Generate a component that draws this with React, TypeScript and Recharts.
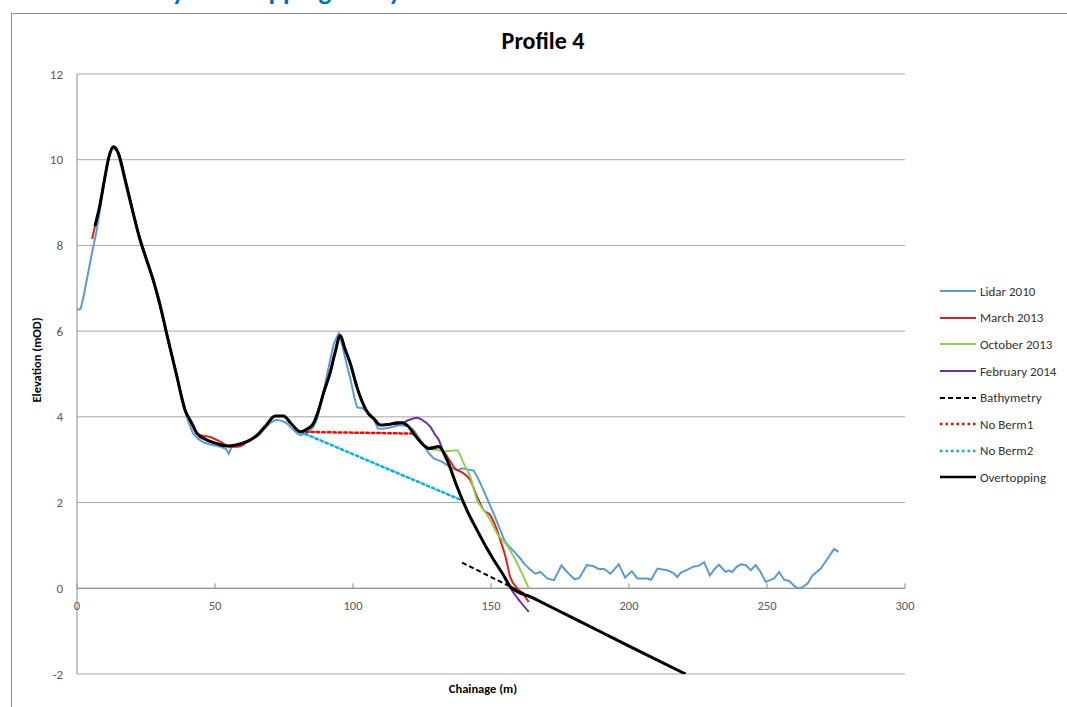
import { LineChart, Line, XAxis, YAxis, CartesianGrid, ReferenceLine, ReferenceDot } from 'recharts';

type Pt = [number, number];

// chainage (m), elevation (mOD)
const lidar2010: Pt[] = [
  [0, 6.5], [1.3, 6.52], [2.5, 6.85], [4, 7.35], [5.5, 7.85], [7, 8.3], [8.5, 8.9], [10, 9.55],
  [11.5, 10.05], [13, 10.28], [14.5, 10.2], [16, 9.85], [18, 9.3], [20, 8.8], [22, 8.35], [24, 7.95],
  [26, 7.55], [28, 7.15], [30, 6.7], [32, 6.1], [34, 5.5], [36, 4.95], [38, 4.4], [40, 3.95],
  [42, 3.62], [44, 3.48], [46, 3.4], [48, 3.36], [50, 3.33], [52, 3.3], [54, 3.25], [55, 3.14],
  [56, 3.3], [58, 3.33], [60, 3.38], [62, 3.42], [64, 3.5], [66, 3.58], [68, 3.72], [70, 3.86],
  [72, 3.93], [74, 3.91], [76, 3.85], [78, 3.72], [80, 3.6], [81, 3.57], [83, 3.62], [85.5, 3.75],
  [87, 3.95], [89, 4.5], [91, 5.1], [93, 5.7], [94.8, 5.95], [96, 5.7], [97.8, 5.2], [99, 4.9],
  [100.5, 4.45], [101.5, 4.22], [103.5, 4.2], [105.5, 4.1], [107.5, 3.96], [109, 3.73], [111, 3.72],
  [113.5, 3.75], [117, 3.81], [120, 3.78], [122, 3.69], [124, 3.5], [125.6, 3.34], [127.5, 3.15],
  [129.2, 3.03], [132.3, 2.95], [134, 2.88], [135.9, 2.8], [138, 2.75], [139.5, 2.8], [141.5, 2.77],
  [143.7, 2.75], [145, 2.6], [146.2, 2.44], [148.6, 2.09], [151, 1.74], [153.4, 1.35], [155, 1.1],
  [156.5, 0.98], [158.5, 0.85], [160.7, 0.69], [161.9, 0.58], [164, 0.45], [166.1, 0.34], [167.9, 0.38],
  [170.4, 0.23], [172.8, 0.19], [175.5, 0.53], [178, 0.35], [180.3, 0.21], [182, 0.24], [184.7, 0.54],
  [187, 0.52], [189, 0.45], [191, 0.45], [193.3, 0.34], [196.3, 0.56], [198.6, 0.25], [201, 0.4],
  [203, 0.23], [206.6, 0.23], [208, 0.2], [210.3, 0.46], [213.9, 0.42], [216, 0.36], [217.5, 0.26],
  [218.7, 0.36], [221, 0.43], [223.5, 0.51], [225, 0.52], [227.2, 0.61], [229.3, 0.3], [231, 0.45],
  [232.6, 0.55], [235, 0.38], [236, 0.42], [237.4, 0.38], [239, 0.5], [240.5, 0.56], [242.3, 0.54],
  [244.1, 0.42], [245.9, 0.54], [247.5, 0.4], [249.5, 0.15], [252.6, 0.23], [254.4, 0.38], [256.2, 0.2],
  [258, 0.17], [260, 0.05], [261, 0], [262.2, 0], [264.7, 0.11], [266.5, 0.3], [269.5, 0.46],
  [271.9, 0.69], [274.3, 0.92], [275.9, 0.85],
];

// shared crest / berm profile of the surveyed lines
const crestProfile: Pt[] = [
  [6.5, 8.45], [8, 8.85], [10, 9.55], [11.5, 10.05], [13.2, 10.3], [15, 10.15], [17.4, 9.55], [20, 8.85],
  [22.9, 8.12], [25, 7.7], [27.6, 7.19], [30.1, 6.6], [33, 5.8], [36, 5.0], [39.2, 4.15], [41.6, 3.85],
  [43.4, 3.62], [47, 3.46], [50.5, 3.38], [54.3, 3.32], [58, 3.35], [61.5, 3.42], [65.2, 3.57],
  [68.5, 3.8], [71.8, 4.02], [74.8, 4.02], [77.5, 3.85], [80.9, 3.65], [83.5, 3.72], [85.7, 3.85],
  [87.5, 4.15], [89.3, 4.55], [91.8, 5.05], [93.5, 5.5], [95.4, 5.9], [97, 5.6], [99, 5.25], [101.4, 4.7],
  [103.9, 4.27], [105.5, 4.08], [107.5, 3.96], [109.9, 3.81], [113.5, 3.83], [117.7, 3.86],
];

const overtoppingTail: Pt[] = [
  [120, 3.78], [122, 3.61], [125.6, 3.34], [127.4, 3.26], [131.1, 3.3], [134.1, 2.99], [137.7, 2.37],
  [141.3, 1.82], [145, 1.35], [148.6, 0.92], [151, 0.66], [154.6, 0.3], [157, 0.04], [165, -0.22],
  [180, -0.7], [200, -1.35], [220.5, -2.0],
];

const march2013Tail: Pt[] = [
  [120, 3.78], [122, 3.61], [125.6, 3.34], [127.4, 3.28], [131.1, 3.32], [134.1, 3.07], [137.1, 2.79],
  [140.1, 2.68], [142.5, 2.52], [145, 2.13], [147.4, 1.82], [149.8, 1.7], [152.2, 1.35], [153.4, 1.12],
  [155.2, 0.75], [157, 0.26], [159.5, 0.0], [161.9, -0.16], [163.7, -0.32],
];

const march2013Trough: Pt[] = [
  [5.5, 8.15], [44.6, 3.57], [48.2, 3.53], [51.9, 3.42], [55.5, 3.3], [58, 3.3], [60.3, 3.35],
];

const october2013Tail: Pt[] = [
  [120, 3.78], [122, 3.61], [125.6, 3.34], [127.4, 3.26], [129.5, 3.24], [131.1, 3.22], [133.5, 3.2],
  [137.7, 3.22], [140.1, 2.91], [142.5, 2.6], [145, 2.05], [147.4, 1.82], [149.8, 1.59], [152.2, 1.28],
  [155.8, 1.0], [159.5, 0.58], [163.7, 0.0],
];

const february2014Tail: Pt[] = [
  [120, 3.92], [123.2, 3.98], [125, 3.93], [128, 3.77], [130, 3.56], [131.1, 3.46], [132.3, 3.26],
  [134.1, 2.99], [137.7, 2.37], [141.3, 1.82], [145, 1.35], [148.6, 0.92], [151, 0.66], [154.6, 0.3],
  [157.6, -0.05], [160.7, -0.32], [163.7, -0.55],
];

const bathymetry: Pt[] = [[139.5, 0.6], [220.5, -2.0]];
const noBerm1: Pt[] = [[80.9, 3.65], [121.4, 3.61]];
const noBerm2: Pt[] = [[80.9, 3.65], [139.5, 2.05]];

const chainageTicks = [0, 50, 100, 150, 200, 250, 300];
const elevationTicks = [-2, 0, 2, 4, 6, 8, 10, 12];

const rows = (pts: Pt[]) => pts.map(([x, y]) => ({ x, y }));
const sorted = (pts: Pt[]) => [...pts].sort((a, b) => a[0] - b[0]);

// March 2013 follows the crest except where it sits apart in the landward trough
const march2013 = sorted([
  ...march2013Trough,
  ...crestProfile.filter(([x]) => x < 44 || x > 61),
  ...march2013Tail,
]);
const october2013 = sorted([[6.9, 8.6], ...crestProfile.filter(([x]) => x > 7), ...october2013Tail]);
const february2014 = sorted([...crestProfile, [116, 3.88], ...february2014Tail]);
const overtopping = sorted([...crestProfile, ...overtoppingTail]);

const FONT = "Carlito, Calibri, 'Liberation Sans Narrow', Lato, 'Open Sans', sans-serif";
const AXIS_GREY = '#8c8c8c';

const series = [
  { name: 'Lidar 2010', data: lidar2010, color: '#5b9bd5', width: 2, dash: undefined, type: 'linear' },
  { name: 'March 2013', data: march2013, color: '#e0201b', width: 2, dash: undefined, type: 'monotone' },
  { name: 'October 2013', data: october2013, color: '#92d050', width: 2, dash: undefined, type: 'monotone' },
  { name: 'February 2014', data: february2014, color: '#7030a0', width: 2, dash: undefined, type: 'monotone' },
  { name: 'Bathymetry', data: bathymetry, color: '#000000', width: 2, dash: '5 3', type: 'linear' },
  { name: 'No Berm1', data: noBerm1, color: '#ff0000', width: 2.5, dash: '2.5 3', type: 'linear' },
  { name: 'No Berm2', data: noBerm2, color: '#00b0f0', width: 2.5, dash: '2.5 3', type: 'linear' },
  { name: 'Overtopping', data: overtopping, color: '#000000', width: 3, dash: undefined, type: 'monotone' },
] as const;

// chainage labels sit on the zero line, with small upward tick marks
const chainageMark = (value: number) => (p: any) => (
  <g>
    <line x1={p.cx} x2={p.cx} y1={p.cy - 5} y2={p.cy} stroke={AXIS_GREY} />
    <text x={p.cx} y={p.cy + 22} textAnchor="middle" fontSize={12.5} fill="#595959" fontFamily={FONT}>
      {value}
    </text>
  </g>
);

const LegendBox = () => (
  <div style={{ position: 'absolute', left: 938, top: 278, fontFamily: FONT, fontSize: 13, color: '#333' }}>
    {series.map((s) => (
      <div key={s.name} style={{ display: 'flex', alignItems: 'center', height: 26.6 }}>
        <svg width={40} height={10} style={{ marginRight: 2 }}>
          <line x1={2} x2={38} y1={5} y2={5} stroke={s.color} strokeWidth={Math.min(s.width, 2.5)} strokeDasharray={s.dash} />
        </svg>
        <span>{s.name}</span>
      </div>
    ))}
  </div>
);

export default function App() {
  return (
    <div style={{ position: 'absolute', left: 0, top: 0, width: 1067, height: 707, overflow: 'hidden', background: '#fff' }}>
      <div
        style={{
          position: 'absolute', left: 144, top: -24, whiteSpace: 'nowrap', color: '#0070c0',
          fontFamily: FONT, fontWeight: 700, fontSize: 27, lineHeight: '30px',
        }}
      >
        Bay Overtopping Study
      </div>
      <div style={{ position: 'absolute', left: 11, top: 13, width: 1100, height: 800, border: `1px solid ${AXIS_GREY}` }} />
      <div
        style={{
          position: 'absolute', left: 443, width: 200, top: 26, textAlign: 'center',
          fontFamily: FONT, fontWeight: 700, fontSize: 24, color: '#000',
        }}
      >
        Profile 4
      </div>
      <LineChart
        width={1067}
        height={707}
        margin={{ top: 74, right: 162, bottom: 33, left: 37 }}
        style={{ position: 'absolute', left: 0, top: 0 }}
      >
        <CartesianGrid vertical={false} stroke="#a6a6a6" />
        <XAxis dataKey="x" type="number" domain={[0, 300]} ticks={chainageTicks} hide allowDataOverflow />
        <YAxis
          type="number"
          domain={[-2, 12]}
          ticks={elevationTicks}
          width={40}
          axisLine={{ stroke: AXIS_GREY }}
          tickLine={false}
          tickSize={6}
          tickMargin={8}
          tick={{ fontSize: 13, fill: '#595959', fontFamily: FONT }}
          allowDataOverflow
        />
        <ReferenceLine y={0} stroke={AXIS_GREY} />
        {series.map((s) => (
          <Line
            key={s.name}
            data={rows(s.data)}
            dataKey="y"
            name={s.name}
            type={s.type}
            stroke={s.color}
            strokeWidth={s.width}
            strokeDasharray={s.dash}
            strokeLinecap={s.dash && s.width > 2 ? 'round' : 'butt'}
            dot={false}
            activeDot={false}
            isAnimationActive={false}
          />
        ))}
        {chainageTicks.map((t) => (
          <ReferenceDot key={t} x={t} y={0} r={0} shape={chainageMark(t)} />
        ))}
      </LineChart>
      <LegendBox />
      <div
        style={{
          position: 'absolute', left: 36, top: 360, transform: 'translate(-50%, -50%) rotate(-90deg)',
          whiteSpace: 'nowrap', fontFamily: FONT, fontWeight: 700, fontSize: 12.5, color: '#000',
        }}
      >
        Elevation (mOD)
      </div>
      <div
        style={{
          position: 'absolute', left: 483, top: 688, transform: 'translate(-50%, -50%)',
          whiteSpace: 'nowrap', fontFamily: FONT, fontWeight: 700, fontSize: 12.5, color: '#000',
        }}
      >
        Chainage (m)
      </div>
    </div>
  );
}
